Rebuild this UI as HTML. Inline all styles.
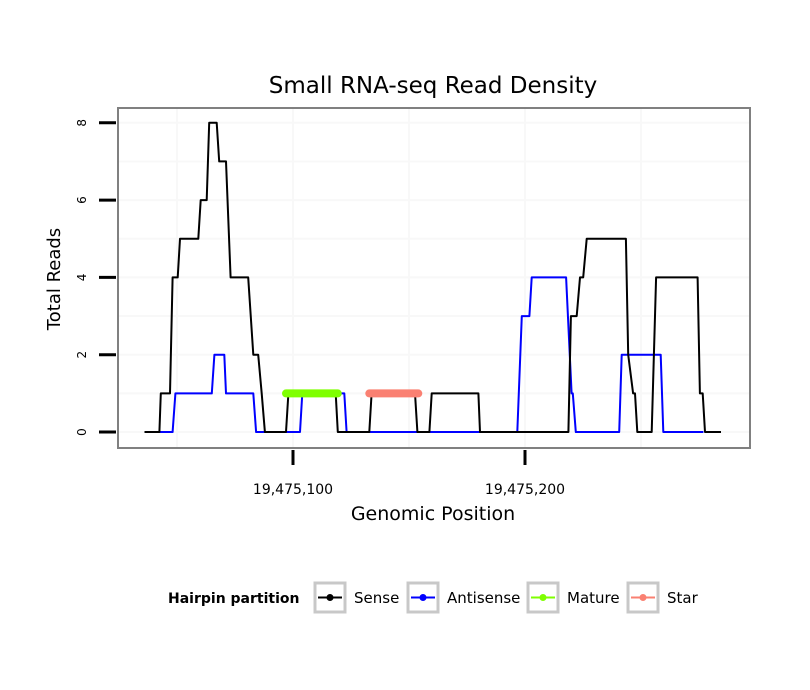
<!DOCTYPE html>
<html><head><meta charset="utf-8"><style>
body{margin:0;background:#fff;}
svg{display:block;font-family:"DejaVu Sans","Liberation Sans",Arial,sans-serif;}
</style></head><body>
<svg id="chart" width="810" height="690" viewBox="0 0 810 690">
<text x="433" y="93" font-size="23" text-anchor="middle">Small RNA-seq Read Density</text>
<g id="grid"></g>
<g id="series"></g>
<rect x="118" y="108" width="632" height="340" fill="none" stroke="#808080" stroke-width="2"/>
<g id="axes"></g>
<text x="433" y="520" font-size="19" text-anchor="middle">Genomic Position</text>
<text transform="translate(60,279) rotate(-90)" font-size="18" text-anchor="middle">Total Reads</text>
<g>
<text x="168" y="603" font-size="14" font-weight="bold">Hairpin partition</text>
<g>
<rect x="315" y="583" width="30" height="29" fill="#fff" stroke="#c8c8c8" stroke-width="3"/>
<line x1="318" y1="597.5" x2="342" y2="597.5" stroke="#000" stroke-width="2"/><circle cx="330" cy="597.5" r="3.5" fill="#000"/>
<text x="354" y="603" font-size="15">Sense</text></g>
<g>
<rect x="408" y="583" width="30" height="29" fill="#fff" stroke="#c8c8c8" stroke-width="3"/>
<line x1="411" y1="597.5" x2="435" y2="597.5" stroke="#00f" stroke-width="2"/><circle cx="423" cy="597.5" r="3.5" fill="#00f"/>
<text x="447" y="603" font-size="15">Antisense</text></g>
<g>
<rect x="528" y="583" width="30" height="29" fill="#fff" stroke="#c8c8c8" stroke-width="3"/>
<line x1="531" y1="597.5" x2="555" y2="597.5" stroke="#7fff00" stroke-width="2"/><circle cx="543" cy="597.5" r="3.5" fill="#7fff00"/>
<text x="567" y="603" font-size="15">Mature</text></g>
<g>
<rect x="628" y="583" width="30" height="29" fill="#fff" stroke="#c8c8c8" stroke-width="3"/>
<line x1="631" y1="597.5" x2="655" y2="597.5" stroke="#fa8072" stroke-width="2"/><circle cx="643" cy="597.5" r="3.5" fill="#fa8072"/>
<text x="667" y="603" font-size="15">Star</text></g>
</g>
</svg>
<script>
const BASE = 19475000;
const senseX = [36,42.4,43,47,48.1,50.3,51.3,59.2,60.2,62.8,63.9,67.1,68.2,71.1,73.1,80.7,82.9,85,86.5,87.9,97,98,118.4,119.3,132.9,133.9,152.6,153.6,158.8,159.8,179.9,180.6,218.7,219.8,222.3,223.7,225.1,226.6,243.5,244.5,246.6,247.4,248.4,254.6,256.5,274.4,275.4,276.6,277.6,284.5];
const senseY = [0,0,1,1,4,4,5,5,6,6,8,8,7,7,4,4,2,2,1,0,0,1,1,0,0,1,1,0,0,1,1,0,0,3,3,4,4,5,5,2,1,1,0,0,4,4,1,1,0,0];
const antiX = [36,48.1,49.3,65,66.1,70.4,71.1,82.9,84.1,103,104,122.1,123.1,196.7,198.6,201.9,202.9,217.7,220.1,220.6,221.9,240.6,241.7,258.5,259.6,276.9];
const antiY = [0,0,1,1,2,2,1,1,0,0,1,1,0,0,3,3,4,4,1,1,0,0,2,2,0,0];
const matureX = [97,119.3];
const matureY = [1,1];
const starX = [132.9,154];
const starY = [1,1];
const xTicks = [100,200];
const xTickLabels = ["19,475,100","19,475,200"];
const xGrid = [50,100,150,200,250];
const yTicks = [0,2,4,6,8];
const yGrid = [0,1,2,3,4,5,6,7,8];

const NS="http://www.w3.org/2000/svg";
function sx(p){return 293+(p-100)*2.32;}
function sy(v){return 432-v*38.65;}
function mk(tag,attrs,parent){const e=document.createElementNS(NS,tag);for(const k in attrs)e.setAttribute(k,attrs[k]);parent.appendChild(e);return e;}
const grid=document.getElementById('grid'),series=document.getElementById('series'),axes=document.getElementById('axes');
xGrid.forEach(g=>{const l=mk('line',{x1:sx(g),x2:sx(g),y1:109,y2:447,stroke:'#f8f8f8','stroke-width':2},grid);

});
yGrid.forEach(g=>{const l=mk('line',{x1:119,x2:749,y1:sy(g),y2:sy(g),stroke:'#f8f8f8','stroke-width':2},grid);

});
function path(xs,ys,color,w,name,cap){
const d=xs.map((x,i)=>(i?'L':'M')+sx(x).toFixed(1)+','+sy(ys[i]).toFixed(1)).join(' ');
const p=mk('path',{d:d,fill:'none',stroke:color,'stroke-width':w,'stroke-linecap':cap,'stroke-linejoin':'round'},series);

}
path(antiX,antiY,'#0000ff',2,'antisense-line','butt');
path(senseX,senseY,'#000000',2,'sense-line','butt');
path(matureX,matureY,'#7fff00',8,'mature-segment','round');
path(starX,starY,'#fa8072',8,'star-segment','round');
yTicks.forEach(t=>{const l=mk('line',{x1:99,x2:116,y1:sy(t),y2:sy(t),stroke:'#000','stroke-width':3},axes);


const tx=mk('text',{transform:'translate(86,'+sy(t)+') rotate(-90)','font-size':12,'text-anchor':'middle'},axes);
tx.textContent=t;

});
xTicks.forEach((t,i)=>{const l=mk('line',{x1:sx(t),x2:sx(t),y1:450,y2:465,stroke:'#000','stroke-width':3},axes);


const tx=mk('text',{x:sx(t),y:494,'font-size':14,'text-anchor':'middle'},axes);
tx.textContent=xTickLabels[i];

});
</script>
</body></html>
